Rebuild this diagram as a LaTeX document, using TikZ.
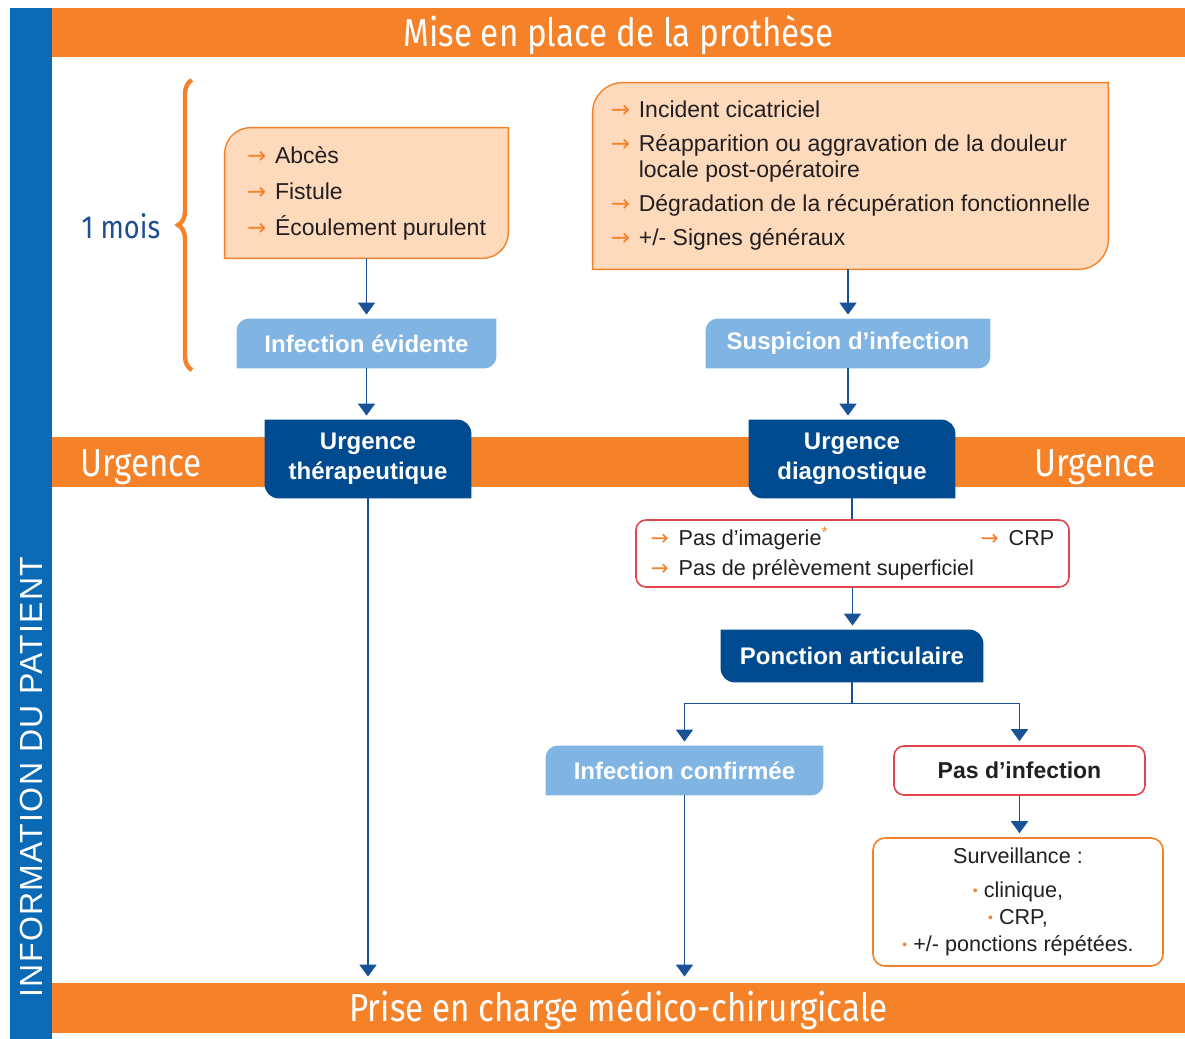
\documentclass[tikz,border=0pt]{standalone}
\usepackage{fontspec}
\setmainfont{Liberation Sans}
\newfontfamily\headfont[FakeStretch=0.85]{Fira Sans}
\newfontfamily\barfont[LetterSpace=4]{Liberation Sans}
\newfontfamily\symfont{DejaVu Sans}
\usepackage{tikz}
\usetikzlibrary{arrows.meta, positioning, calc, backgrounds, decorations.pathreplacing}
\definecolor{hOrange}{HTML}{F58229}
\definecolor{hPeach}{HTML}{FDDABC}
\definecolor{hNavy}{HTML}{004A8F}
\definecolor{hSky}{HTML}{80B4E2}
\definecolor{hBar}{HTML}{0B6AB5}
\definecolor{hRed}{HTML}{E0474C}
\definecolor{hInk}{HTML}{231F20}
\definecolor{hLine}{HTML}{1A5298}
\definecolor{hMonth}{HTML}{1D4E92}
\newcommand{\arr}{\makebox[14pt][l]{\textcolor{hOrange}{\symfont →}}}
\newcommand{\dotb}{\textcolor{hOrange}{\raisebox{0.15ex}{\scriptsize\textbullet}}\ }
% box with rounded top-left and bottom-right corners
\newcommand{\tlbrbox}[3]{%
  \path[#2] (#1.south west) -- ([yshift=-#3]#1.north west)
    arc[start angle=180, end angle=90, radius=#3] -- (#1.north east)
    -- ([yshift=#3]#1.south east) arc[start angle=0, end angle=-90, radius=#3] -- cycle;}
% box with rounded top-right and bottom-left corners
\newcommand{\trblbox}[3]{%
  \path[#2] (#1.north west) -- ([xshift=-#3]#1.north east)
    arc[start angle=90, end angle=0, radius=#3] -- (#1.south east)
    -- ([xshift=#3]#1.south west) arc[start angle=270, end angle=180, radius=#3] -- cycle;}
\tikzset{
  hd-band/.style={fill=hOrange, text=white, inner sep=0pt, text height=13.5pt, text depth=0pt,
    font=\headfont\fontsize{19.5}{24}\selectfont},
  hd-bandtxt/.style={text=white, inner sep=0pt, text height=13.5pt, text depth=0pt,
    font=\headfont\fontsize{19.5}{24}\selectfont},
  hd-signs/.style={align=left, text=hInk, inner sep=0pt,
    font=\fontsize{11.5}{13}\selectfont},
  hd-sky/.style={text=white, inner sep=0pt, minimum height=24.5pt,
    font=\bfseries\fontsize{12}{15}\selectfont},
  hd-navy/.style={text=white, inner sep=0pt, align=center,
    font=\bfseries\fontsize{12}{15}\selectfont},
  hd-red/.style={draw=hRed, line width=0.8pt, rounded corners=5pt, fill=white,
    text=hInk, inner sep=0pt},
  hd-surv/.style={draw=hOrange, line width=0.8pt, rounded corners=6pt, fill=white,
    text=hInk, inner sep=0pt, align=center, font=\fontsize{10.8}{13.5}\selectfont},
  hd-peach/.style={fill=hPeach, draw=hOrange, line width=0.7pt},
  hd-skyfill/.style={fill=hSky},
  hd-navyfill/.style={fill=hNavy},
  hd-flow/.style={draw=hLine, line width=0.9pt, -{Triangle[width=8.5pt,length=6pt]},
    shorten >=2pt},
  hd-link/.style={draw=hLine, line width=0.9pt},
}
\begin{document}
\begin{tikzpicture}[x=0.5pt, y=0.5pt]
  \useasboundingbox (0,0) rectangle (1185,-1039);

  % bands
  \begin{scope}[on background layer]
    \node[hd-band, minimum width=566.5pt, minimum height=24.5pt] (pose) at (618.5,-32.5) {Mise en place de la prothèse};
    \node[hd-band, minimum width=566.5pt, minimum height=25pt] (urgband) at (618.5,-462) {};
    \node[hd-band, minimum width=566.5pt, minimum height=25pt] (prise) at (618.5,-1008) {Prise en charge médico-chirurgicale};
    \node[fill=hBar, minimum width=21pt, minimum height=515.5pt, inner sep=0pt] (infobar) at (31,-523.5) {};
  \end{scope}
  \node[rotate=90, text=white, inner sep=0pt, font=\barfont\fontsize{16}{18}\selectfont] (infotxt) at (31,-777) {INFORMATION DU PATIENT};
  \node[hd-bandtxt] (urgL) at (141,-463) {Urgence};
  \node[hd-bandtxt] (urgR) at (1095,-463) {Urgence};

  % one month brace
  \coordinate (braceBot) at (192,-370);
  \coordinate (braceTop) at (192,-80);
  \draw[decorate, decoration={brace, amplitude=7pt}, draw=hOrange, line width=2.2pt] (braceBot) -- (braceTop);
  \node[text=hMonth, inner sep=0pt, font=\headfont\fontsize{16}{18}\selectfont] (mois) at (121,-226) {1 mois};

  % signs
  \node[hd-signs, minimum width=141.5pt, minimum height=65pt] (signsA) at (366.5,-193)
    {\arr Abcès\\[5pt] \arr Fistule\\[5pt] \arr Écoulement purulent};
  \node[hd-signs, minimum width=257.5pt, minimum height=93pt] (signsB) at (850.5,-176)
    {\arr Incident cicatriciel\\[4pt]
     \arr Réapparition ou aggravation de la douleur\\
     \hspace*{14pt}locale post-opératoire\\[4pt]
     \arr Dégradation de la récupération fonctionnelle\\[4pt]
     \arr +/- Signes généraux};

  % flow
  \node[hd-sky, minimum width=129.5pt] (evid) at (366.5,-343.5) {Infection évidente};
  \node[hd-sky, minimum width=142pt] (susp) at (848,-343.5) {Suspicion d’infection};
  \node[hd-navy, minimum width=103pt, minimum height=39pt] (urgT) at (368,-459) {Urgence\\thérapeutique};
  \node[hd-navy, minimum width=103pt, minimum height=39pt] (urgD) at (852,-459) {Urgence\\diagnostique};
  \node[hd-red, minimum width=216.5pt, minimum height=33.5pt, align=left,
        font=\fontsize{10.8}{15}\selectfont] (exam) at (852.5,-553.5)
    {\makebox[165pt][l]{\arr Pas d'imagerie\textsuperscript{\textcolor{hOrange}{*}}}\arr CRP\\
     \arr Pas de prélèvement superficiel};
  \node[hd-navy, minimum width=131pt, minimum height=26pt] (ponc) at (852,-656) {Ponction articulaire};
  \node[hd-sky, minimum width=138.5pt] (conf) at (684.5,-770.5) {Infection confirmée};
  \node[hd-red, minimum width=125.5pt, minimum height=24.5pt,
        font=\bfseries\fontsize{11.5}{14}\selectfont] (noinf) at (1019.5,-770.5) {Pas d'infection};
  \node[hd-surv, minimum width=145pt, minimum height=64pt] (surv) at (1018,-902)
    {Surveillance~:\\[3.5pt] \dotb clinique,\\ \dotb CRP,\\ \dotb +/- ponctions répétées.};

  \begin{scope}[on background layer]
    \tlbrbox{signsA}{hd-peach}{13pt}
    \tlbrbox{signsB}{hd-peach}{15pt}
    \tlbrbox{evid}{hd-skyfill}{6pt}
    \tlbrbox{susp}{hd-skyfill}{6pt}
    \tlbrbox{conf}{hd-skyfill}{6pt}
    \trblbox{urgT}{hd-navyfill}{7pt}
    \trblbox{urgD}{hd-navyfill}{7pt}
    \trblbox{ponc}{hd-navyfill}{7pt}
  \end{scope}

  \draw[hd-flow] (signsA.south) -- (signsA.south |- evid.north);
  \draw[hd-flow] (evid.south) -- (evid.south |- urgT.north);
  \draw[hd-flow, shorten >=3pt] (urgT.south) -- (urgT.south |- prise.north);
  \draw[hd-flow] (susp |- signsB.south) -- (susp.north);
  \draw[hd-flow] (susp.south) -- (susp.south |- urgD.north);
  \draw[hd-link] (urgD.south) -- (urgD.south |- exam.north);
  \draw[hd-flow] (exam.south) -- (exam.south |- ponc.north);
  \draw[hd-flow] (ponc.south) -- ++(0,-10.5pt) -| (conf.north);
  \draw[hd-flow] (ponc.south) -- ++(0,-10.5pt) -| (noinf.north);
  \draw[hd-flow, shorten >=3pt] (conf.south) -- (conf.south |- prise.north);
  \draw[hd-flow] (noinf.south) -- (noinf.south |- surv.north);
\end{tikzpicture}
\end{document}
